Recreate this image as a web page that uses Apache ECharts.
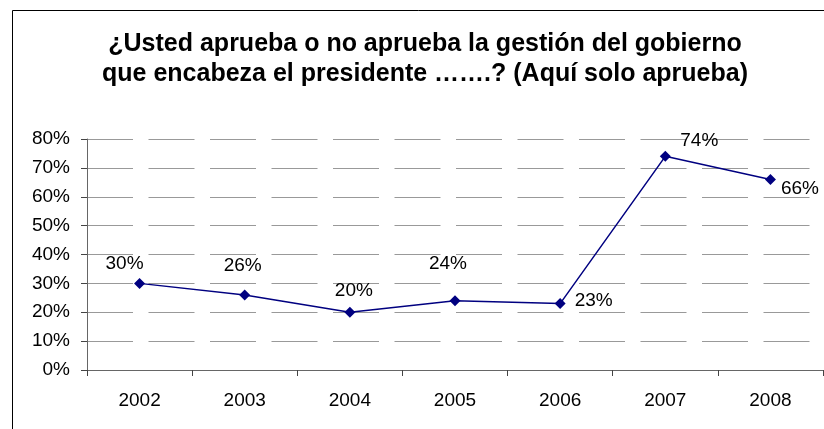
<!DOCTYPE html>
<html>
<head>
<meta charset="utf-8">
<script src="https://cdn.jsdelivr.net/npm/echarts@6/dist/echarts.min.js"></script>
<style>
html,body{margin:0;padding:0;background:#fff;}
#chart{width:824px;height:429px;}
</style>
</head>
<body>
<div id="chart"></div>
<script>
const titleText = '¿Usted aprueba o no aprueba la gestión del gobierno\nque encabeza el presidente …….? (Aquí solo aprueba)';
const categories = ['2002', '2003', '2004', '2005', '2006', '2007', '2008'];
const approvalValues = [30, 26, 20, 24, 23, 74, 66];
const yTicks = [0, 10, 20, 30, 40, 50, 60, 70, 80];

const labelPlacement = [
  { position: 'top', offset: [-15, 0] },
  { position: 'top', offset: [-2, -9] },
  { position: 'top', offset: [4, -1] },
  { position: 'top', offset: [-7, -17] },
  { position: 'right', offset: [4, -3] },
  { position: 'top', offset: [34, 4] },
  { position: 'right', offset: [0, 9] }
];

const chart = echarts.init(document.getElementById('chart'));
const font = 'Liberation Sans, Arial, sans-serif';
chart.setOption({
  animation: false,
  backgroundColor: '#fff',
  graphic: [{
    type: 'rect',
    shape: { x: 12.5, y: 10.5, width: 1000, height: 1000 },
    style: { fill: 'none', stroke: '#000', lineWidth: 1 },
    silent: true
  }],
  title: {
    text: titleText,
    left: 425,
    top: 29.5,
    padding: 0,
    textAlign: 'center',
    textStyle: { fontFamily: font, fontWeight: 'bold', fontSize: 25, lineHeight: 30, color: '#000' }
  },
  grid: { left: 87, top: 139, right: 1, bottom: 59, containLabel: false },
  xAxis: {
    type: 'category',
    data: categories,
    boundaryGap: true,
    axisLine: { lineStyle: { color: '#666', width: 1 } },
    axisTick: { show: true, length: 6, lineStyle: { color: '#444' } },
    axisLabel: { fontFamily: font, fontSize: 19, color: '#000', margin: 21 },
    splitLine: { show: false }
  },
  yAxis: {
    type: 'value',
    min: yTicks[0],
    max: yTicks[yTicks.length - 1],
    interval: 10,
    axisLine: { show: true, lineStyle: { color: '#666', width: 1 } },
    axisTick: { show: true, length: 6, lineStyle: { color: '#444' } },
    axisLabel: { fontFamily: font, fontSize: 19, color: '#000', margin: 17, formatter: '{value}%' },
    splitLine: { show: true, lineStyle: { color: '#999', width: 1, type: [46, 15.5] } }
  },
  series: [{
    type: 'line',
    data: approvalValues.map((v, i) => ({
      value: v,
      label: { show: true, position: labelPlacement[i].position, offset: labelPlacement[i].offset }
    })),
    symbol: 'diamond',
    symbolSize: 11,
    lineStyle: { color: '#000080', width: 1.5 },
    itemStyle: { color: '#000080' },
    label: { show: true, formatter: '{c}%', fontFamily: font, fontSize: 19, color: '#000', distance: 5 }
  }]
});
</script>
</body>
</html>
